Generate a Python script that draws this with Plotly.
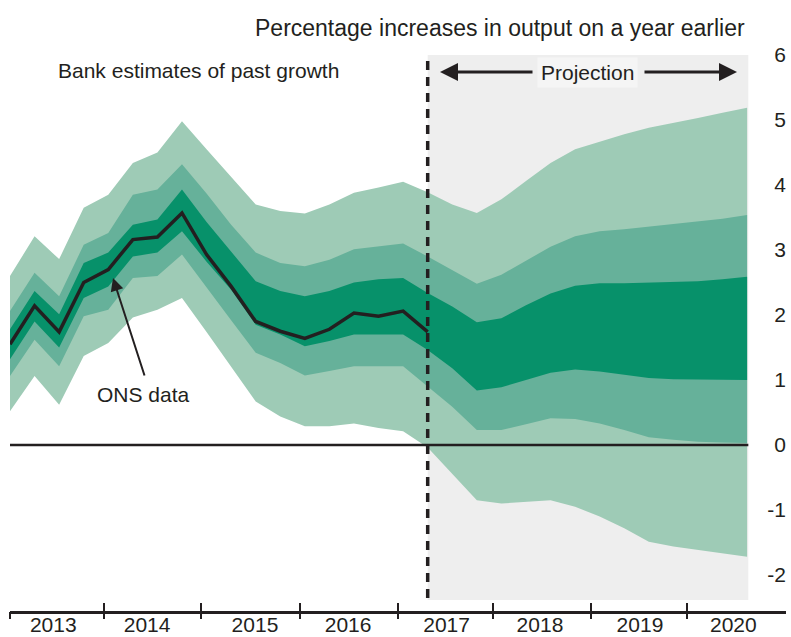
import plotly.graph_objects as go

# ---------------- data (quarterly index, 0 = first quarter of 2013) ----------------
quarter_index = list(range(31))

outer_top = [2.60, 3.21, 2.86, 3.65, 3.85, 4.34, 4.50, 4.98, 4.55, 4.12, 3.70, 3.60, 3.56, 3.70, 3.88, 3.96,
             4.05, 3.89, 3.70, 3.57, 3.78, 4.06, 4.34, 4.55, 4.67, 4.78, 4.88, 4.95, 5.03, 5.11, 5.19]
middle_top = [2.06, 2.65, 2.29, 3.08, 3.26, 3.85, 3.93, 4.32, 3.87, 3.39, 2.96, 2.80, 2.75, 2.85, 3.01, 3.06,
              3.10, 2.90, 2.69, 2.48, 2.62, 2.84, 3.05, 3.21, 3.29, 3.32, 3.36, 3.39, 3.43, 3.48, 3.54]
inner_top = [1.78, 2.37, 2.01, 2.80, 2.96, 3.39, 3.47, 3.93, 3.43, 2.98, 2.52, 2.37, 2.29, 2.37, 2.50, 2.55,
             2.57, 2.34, 2.13, 1.89, 1.95, 2.15, 2.33, 2.45, 2.49, 2.49, 2.50, 2.51, 2.52, 2.55, 2.59]
inner_bottom = [1.32, 1.90, 1.50, 2.26, 2.44, 2.90, 2.96, 3.29, 2.82, 2.39, 1.85, 1.70, 1.52, 1.60, 1.70, 1.70,
                1.70, 1.46, 1.18, 0.84, 0.89, 1.00, 1.11, 1.16, 1.13, 1.08, 1.03, 1.01, 1.00, 1.00, 1.00]
middle_bottom = [1.06, 1.62, 1.21, 1.98, 2.08, 2.57, 2.60, 2.93, 2.42, 1.92, 1.42, 1.26, 1.07, 1.14, 1.21, 1.21,
                 1.21, 0.90, 0.59, 0.23, 0.23, 0.32, 0.41, 0.40, 0.33, 0.23, 0.12, 0.08, 0.05, 0.04, 0.03]
outer_bottom = [0.52, 1.06, 0.62, 1.37, 1.57, 1.96, 2.08, 2.26, 1.74, 1.21, 0.67, 0.44, 0.29, 0.29, 0.33, 0.26,
                0.21, -0.04, -0.44, -0.85, -0.90, -0.87, -0.85, -0.95, -1.10, -1.28, -1.49, -1.56, -1.62, -1.67, -1.72]

ons_data = [1.55, 2.14, 1.74, 2.50, 2.70, 3.16, 3.20, 3.57, 2.93, 2.44, 1.90, 1.75, 1.64, 1.78, 2.03, 1.98,
            2.06, 1.74]

projection_start = 17           # quarter index where the projection begins
projection_end = 30.05

year_labels = ["2013", "2014", "2015", "2016", "2017", "2018", "2019", "2020"]
year_label_pos = [1.76, 5.58, 9.97, 13.76, 17.77, 21.57, 25.64, 29.44]
year_boundaries = [0, 3.83, 7.77, 11.80, 15.79, 19.66, 23.65, 27.56, 31.55]

y_ticks = [-2, -1, 0, 1, 2, 3, 4, 5, 6]
y_tick_text = ["-2", "-1", "0", "1", "2", "3", "4", "5", "6"]

# ---------------- styling ----------------
C_OUTER = "#9ecbb6"
C_MIDDLE = "#66b19a"
C_INNER = "#07916a"
C_GREY = "#eeeeee"
C_TEXT = "#231f20"
FONT = "Liberation Sans"

W, H = 791, 637
PL, PR, PT, PB = 10, 786, 40, 611      # plot area in pixels
QW = 24.57                               # px per quarter
ZERO_PX, UNIT_PX = 445, 65
X_RANGE = [0, (PR - PL) / QW]
Y_RANGE = [(ZERO_PX - PB) / UNIT_PX, (ZERO_PX - PT) / UNIT_PX]


def dy(py):
    return (ZERO_PX - py) / UNIT_PX


def px(x):
    return (x - PL) / (PR - PL)


def py(y):
    return (PB - y) / (PB - PT)


fig = go.Figure()


def band(top, bottom, color):
    xs = quarter_index + quarter_index[::-1]
    ys = top + bottom[::-1]
    fig.add_trace(go.Scatter(x=xs, y=ys, fill="toself", fillcolor=color, mode="lines",
                             line=dict(width=0, color=color), hoverinfo="skip", showlegend=False))


band(outer_top, outer_bottom, C_OUTER)
band(middle_top, middle_bottom, C_MIDDLE)
band(inner_top, inner_bottom, C_INNER)

fig.add_trace(go.Scatter(x=quarter_index[:len(ons_data)], y=ons_data, mode="lines",
                         line=dict(color=C_TEXT, width=3.5), showlegend=False))

# overlay axes for crossing tick marks
fig.add_trace(go.Scatter(x=[None], y=[None], xaxis="x2", showlegend=False, hoverinfo="skip"))
fig.add_trace(go.Scatter(x=[None], y=[None], xaxis="x3", showlegend=False, hoverinfo="skip"))

shapes = [
    dict(type="rect", xref="x", yref="y", x0=projection_start, x1=projection_end, y0=dy(600), y1=dy(55),
         fillcolor=C_GREY, line=dict(width=0), layer="below"),
    dict(type="line", xref="x", yref="y", x0=0, x1=projection_end, y0=0, y1=0,
         line=dict(color=C_TEXT, width=2.5), layer="above"),
    dict(type="line", xref="x", yref="y", x0=projection_start, x1=projection_start, y0=dy(598), y1=dy(57),
         line=dict(color=C_TEXT, width=3.5, dash="9px,7px"), layer="above"),
]


def arrow(head, tail, width, size):
    return dict(text="", x=px(head[0]), y=py(head[1]), xref="paper", yref="paper",
                ax=tail[0] - head[0], ay=tail[1] - head[1], axref="pixel", ayref="pixel",
                showarrow=True, arrowhead=2, arrowsize=size, arrowwidth=width, arrowcolor=C_TEXT)


ann_font = dict(size=21, color=C_TEXT, family=FONT)
annotations = [
    dict(text="Percentage increases in output on a year earlier", x=px(747), y=py(28), xref="paper",
         yref="paper", xanchor="right", yanchor="middle", showarrow=False,
         font=dict(size=23, color=C_TEXT, family=FONT)),
    dict(text="Bank estimates of past growth", x=px(56), y=py(70), xref="paper", yref="paper",
         xanchor="left", yanchor="middle", showarrow=False, font=ann_font),
    arrow((440, 72), (534, 72), 3, 1.2),
    arrow((737, 72), (643, 72), 3, 1.2),
    dict(text="Projection", x=px(587), y=py(72), xref="paper", yref="paper", xanchor="center",
         yanchor="middle", showarrow=False, bgcolor="#f5f5f5", borderpad=3, font=ann_font),
    dict(text="ONS data", x=px(143), y=py(394), xref="paper", yref="paper", xanchor="center",
         yanchor="middle", showarrow=False, font=ann_font),
    arrow((113, 278), (145, 377), 2, 1.3),
]

fig.update_layout(
    width=W, height=H,
    margin=dict(l=PL, r=W - PR, t=PT, b=H - PB, autoexpand=False),
    paper_bgcolor="white", plot_bgcolor="white",
    font=dict(family=FONT, size=21, color=C_TEXT),
    showlegend=False,
    shapes=shapes,
    annotations=annotations,
    xaxis=dict(range=X_RANGE, tickmode="array", tickvals=year_label_pos, ticktext=year_labels,
               ticks="", showgrid=False, zeroline=False, showline=True, linecolor=C_TEXT, linewidth=2.5,
               tickfont=dict(size=21, color=C_TEXT), ticklabelstandoff=-7,
               fixedrange=True, automargin=False),
    xaxis2=dict(range=X_RANGE, overlaying="x", anchor="y", side="bottom", tickmode="array",
                tickvals=year_boundaries, ticks="outside", ticklen=7, tickwidth=2, tickcolor=C_TEXT,
                showticklabels=False, showgrid=False, zeroline=False, showline=False, automargin=False),
    xaxis3=dict(range=X_RANGE, overlaying="x", anchor="y", side="bottom", tickmode="array",
                tickvals=year_boundaries, ticks="inside", ticklen=8, tickwidth=2, tickcolor=C_TEXT,
                showticklabels=False, showgrid=False, zeroline=False, showline=False, automargin=False),
    yaxis=dict(range=Y_RANGE, side="right", tickmode="array", tickvals=y_ticks, ticktext=y_tick_text,
               ticklabelposition="inside", ticks="", showgrid=False, zeroline=False, showline=False,
               tickfont=dict(size=21, color=C_TEXT), ticklabelstandoff=-3,
               fixedrange=True, automargin=False),
)

fig.write_html("out.html", config={"displayModeBar": False, "staticPlot": True},
               post_script="document.body.style.margin='0';document.body.style.overflow='hidden';")
